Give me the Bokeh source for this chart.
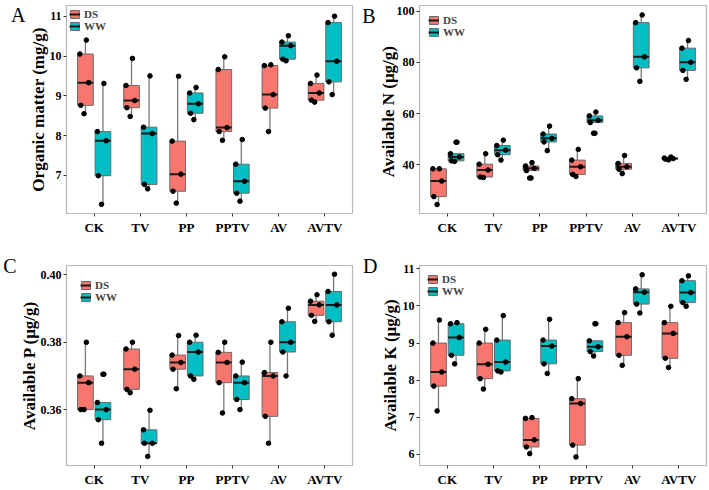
import numpy as np
from bokeh.plotting import figure
from bokeh.models import (ColumnDataSource, FixedTicker, Legend, LegendItem, LinearAxis,
                          NumeralTickFormatter, Range1d)
from bokeh.layouts import gridplot
from bokeh.embed import file_html
from bokeh.resources import INLINE

categories = ["CK", "TV", "PP", "PPTV", "AV", "AVTV"]
groups = ["DS", "WW"]

# Panel A: Organic matter (mg/g), five replicates per treatment
om_ds = [[10.40, 10.05, 9.33, 8.76, 8.55], [9.94, 9.26, 8.88, 8.70, 8.48],
         [9.49, 7.86, 7.03, 6.60, 6.30], [9.98, 9.66, 8.20, 8.10, 7.88],
         [9.78, 9.76, 9.03, 8.69, 8.10], [9.52, 9.31, 9.07, 8.89, 8.84]]
om_ww = [[9.31, 8.10, 7.87, 6.99, 6.27], [9.50, 8.21, 8.05, 6.77, 6.66],
         [9.21, 9.07, 8.80, 8.56, 8.40], [7.90, 7.28, 6.85, 6.55, 6.35],
         [10.51, 10.35, 10.26, 9.92, 9.88], [11.00, 10.84, 9.87, 9.35, 9.03]]

# Panel B: Available N (ug/g)
n_ds = [[38.4, 38.4, 33.6, 27.5, 24.4], [44.3, 40.2, 37.9, 35.2, 35.0],
        [40.8, 39.5, 38.6, 37.7, 34.8], [46.0, 41.8, 39.2, 36.2, 35.4],
        [43.6, 40.5, 39.2, 38.2, 36.5], [43.0, 42.6, 42.4, 42.2, 41.9]]
n_ww = [[48.8, 44.3, 43.0, 41.5, 41.3], [49.6, 47.5, 45.7, 43.9, 41.8],
        [55.1, 52.0, 50.3, 48.9, 45.5], [60.6, 59.1, 57.4, 56.5, 52.3],
        [98.6, 95.6, 82.2, 77.9, 72.6], [88.6, 85.6, 80.1, 76.9, 73.4]]

# Panel C: Available P (ug/g)
p_ds = [[0.380, 0.370, 0.368, 0.360, 0.360], [0.380, 0.378, 0.372, 0.366, 0.365],
        [0.3820, 0.3762, 0.3740, 0.3720, 0.3662], [0.380, 0.377, 0.374, 0.368, 0.359],
        [0.380, 0.371, 0.370, 0.358, 0.350], [0.3941, 0.3922, 0.3911, 0.3880, 0.3862]]
p_ww = [[0.3705, 0.3621, 0.3600, 0.3570, 0.3500], [0.3598, 0.3540, 0.3500, 0.3500, 0.3461],
        [0.3821, 0.3800, 0.3771, 0.3700, 0.3690], [0.3741, 0.3700, 0.3680, 0.3630, 0.3600],
        [0.3901, 0.3861, 0.3800, 0.3771, 0.3700], [0.4002, 0.3951, 0.3911, 0.3861, 0.3821]]

# Panel D: Available K (ug/g)
k_ds = [[9.62, 9.00, 8.22, 7.84, 7.17], [9.37, 9.00, 8.43, 8.04, 7.76],
        [6.99, 6.97, 6.39, 6.20, 6.02], [8.04, 7.50, 7.37, 6.25, 5.93],
        [9.82, 9.55, 9.17, 8.67, 8.40], [9.99, 9.55, 9.26, 8.59, 8.34]]
k_ww = [[9.55, 9.52, 9.15, 8.67, 8.44], [9.74, 9.08, 8.49, 8.25, 8.22],
        [9.64, 9.08, 8.92, 8.44, 8.18], [9.52, 9.06, 8.90, 8.77, 8.65],
        [10.84, 10.46, 10.37, 10.05, 9.81], [10.81, 10.68, 10.36, 10.09, 9.99]]

# ---- style ----
FONT = "Liberation Serif"
COLORS = {"DS": "#F8766D", "WW": "#00BFC4"}
DODGE = {"DS": -0.19, "WW": 0.19}
BOX_W = 0.34
JIT = [0.02, -0.12, 0.07, -0.10, -0.03]   # fixed horizontal spread of points by rank


def box_stats(vals):
    v = np.asarray(vals, dtype=float)
    q1, med, q3 = np.percentile(v, [25, 50, 75])
    iqr = q3 - q1
    lo_f, hi_f = q1 - 1.5 * iqr, q3 + 1.5 * iqr
    inside = v[(v >= lo_f) & (v <= hi_f)]
    out = v[(v < lo_f) | (v > hi_f)]
    return q1, med, q3, inside.min(), inside.max(), out


def make_panel(letter, ylabel, series, y0, y1, ticks, width, height, bl, br, bt, bb,
               lab_standoff, legend_margin, letter_pos, fmt=None):
    p = figure(width=width, height=height, x_range=Range1d(0.4, 6.6), y_range=Range1d(y0, y1),
               output_backend="svg", toolbar_location=None,
               min_border_left=bl, min_border_right=br, min_border_top=bt, min_border_bottom=bb)
    p.xgrid.visible = False
    p.ygrid.visible = False
    p.outline_line_color = "#b8b8b8"
    p.outline_line_width = 1.2
    p.background_fill_color = "white"
    p.border_fill_color = "white"

    for ax in (p.xaxis[0], p.yaxis[0]):
        ax.axis_line_color = None
        ax.major_tick_in = 0
        ax.major_tick_out = 3
        ax.major_tick_line_color = "#333333"
        ax.minor_tick_line_color = None
        ax.major_label_text_font = FONT
        ax.major_label_text_font_style = "bold"
        ax.major_label_text_color = "black"

    p.xaxis.ticker = FixedTicker(ticks=list(range(1, len(categories) + 1)))
    p.xaxis.major_label_overrides = {i + 1: c for i, c in enumerate(categories)}
    p.xaxis.major_label_text_font_size = "13px"
    p.xaxis.major_label_standoff = 3

    p.yaxis.ticker = FixedTicker(ticks=ticks)
    p.yaxis.major_label_text_font_size = "12px"
    p.yaxis.major_label_standoff = 2
    if fmt:
        p.yaxis.formatter = NumeralTickFormatter(format=fmt)
    p.yaxis.axis_label = ylabel
    p.yaxis.axis_label_text_font = FONT
    p.yaxis.axis_label_text_font_style = "bold"
    p.yaxis.axis_label_text_font_size = "17px"
    p.yaxis.axis_label_text_color = "black"
    p.yaxis.axis_label_standoff = lab_standoff

    items = []
    pts = []
    for g, data in series:
        rows = dict(x=[], q1=[], med=[], q3=[], lo=[], hi=[], x0=[], x1=[])
        px, py, ox, oy = [], [], [], []
        for i, vals in enumerate(data):
            xc = i + 1 + DODGE[g]
            q1, med, q3, lo, hi, out = box_stats(vals)
            rows["x"].append(xc)
            rows["q1"].append(q1)
            rows["med"].append(med)
            rows["q3"].append(q3)
            rows["lo"].append(lo)
            rows["hi"].append(hi)
            rows["x0"].append(xc - BOX_W / 2)
            rows["x1"].append(xc + BOX_W / 2)
            for k, v in enumerate(sorted(vals, reverse=True)):
                px.append(xc + JIT[k])
                py.append(v)
            for v in out:
                ox.append(xc)
                oy.append(v)
        src = ColumnDataSource(rows)
        p.segment(x0="x", y0="q3", x1="x", y1="hi", source=src, line_color="#7a7a7a", line_width=1.3)
        p.segment(x0="x", y0="q1", x1="x", y1="lo", source=src, line_color="#7a7a7a", line_width=1.3)
        box = p.vbar(x="x", width=BOX_W, top="q3", bottom="q1", source=src,
                     fill_color=COLORS[g], line_color="#6a6a6a", line_width=1)
        med = p.segment(x0="x0", y0="med", x1="x1", y1="med", source=src,
                        line_color="#1a1a1a", line_width=2)
        items.append(LegendItem(label=g, renderers=[box, med]))
        pts.append((px, py, ox, oy))

    for px, py, ox, oy in pts:
        p.scatter(ox, oy, size=4.6, color="black")
        p.scatter(px, py, size=4.6, color="black")

    legend = Legend(items=items, location="top_left",
                    background_fill_alpha=0, border_line_color=None,
                    label_text_font=FONT, label_text_font_style="bold", label_text_font_size="11px",
                    glyph_width=11, glyph_height=10, label_height=11, spacing=0,
                    padding=2, label_standoff=4, margin=legend_margin)
    p.add_layout(legend)

    # panel letter: the single label of a bare extra axis on the far left
    p.extra_y_ranges = {"tag": Range1d(0, 2000)}
    tag = LinearAxis(y_range_name="tag", ticker=FixedTicker(ticks=[letter_pos]),
                     major_label_overrides={letter_pos: letter},
                     axis_line_color=None, major_tick_line_color=None, minor_tick_line_color=None,
                     major_tick_in=0, major_tick_out=0, major_label_standoff=0,
                     major_label_text_font=FONT, major_label_text_font_style="normal",
                     major_label_text_font_size="20px", major_label_text_color="black")
    p.add_layout(tag, "left")
    return p


pA = make_panel("A", "Organic matter (mg/g)", [("DS", om_ds), ("WW", om_ww)], 6.04, 11.27,
                [7, 8, 9, 10, 11], 354, 240, 57, 2, 5, 24, -1, 3, 1975)
pB = make_panel("B", "Available N  (μg/g)", [("DS", n_ds), ("WW", n_ww)], 20.9, 102.3,
                [40, 60, 80, 100], 354, 240, 65, 2, 5, 27, -4, 9, 1990)
pC = make_panel("C", "Available P (μg/g)", [("DS", p_ds), ("WW", p_ww)], 0.3434, 0.4028,
                [0.36, 0.38, 0.40], 354, 249, 47, 1, 23, 20, -1, 14, 1999, fmt="0.00")
pD = make_panel("D", "Available K (μg/g)", [("DS", k_ds), ("WW", k_ww)], 5.70, 11.09,
                [6, 7, 8, 9, 10, 11], 354, 249, 65, 2, 25, 20, 0, 8, 1999)

grid = gridplot([[pA, pB], [pC, pD]], toolbar_location=None)

with open("out.html", "w") as f:
    f.write(file_html(grid, INLINE))
